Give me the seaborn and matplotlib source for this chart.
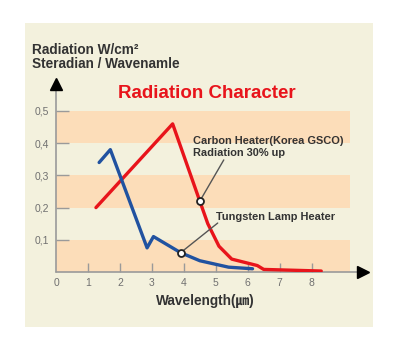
import matplotlib
matplotlib.use("Agg")
import matplotlib.pyplot as plt
from matplotlib.patches import Rectangle
import seaborn as sns
import pandas as pd

# Data
carbon_x = [1.25, 3.65, 4.5, 4.75, 5.1, 5.5, 6.3, 6.5, 8.3]
carbon_y = [0.20, 0.46, 0.22, 0.15, 0.08, 0.04, 0.02, 0.008, 0.003]
tungsten_x = [1.35, 1.7, 2.85, 3.05, 3.9, 4.5, 5.4, 6.15]
tungsten_y = [0.34, 0.38, 0.075, 0.11, 0.06, 0.035, 0.015, 0.01]
x_ticks = [0, 1, 2, 3, 4, 5, 6, 7, 8]
y_ticks = [0.1, 0.2, 0.3, 0.4, 0.5]
y_tick_labels = ["0,1", "0,2", "0,3", "0,4", "0,5"]
carbon_marker = (4.5, 0.22)
tungsten_marker = (3.9, 0.06)

sns.set_style("white")
plt.rcParams["font.family"] = ["Liberation Sans", "Noto Sans CJK JP", "DejaVu Sans"]

CREAM = "#F3F1DD"
BAND = "#FCDDB9"
RED = "#E8141B"
BLUE = "#2152A0"
TXT = "#333333"

fig = plt.figure(figsize=(4, 3.5), dpi=100)
fig.patch.set_facecolor("white")
fig.patches.append(Rectangle((25 / 400, 1 - 327 / 350), 348 / 400, 304 / 350,
                             transform=fig.transFigure, facecolor=CREAM,
                             edgecolor="none", zorder=-5))

ax = fig.add_axes([56 / 400, (350 - 272) / 350, 294 / 400, (272 - 82) / 350])
ax.set_zorder(2)
ax.set_facecolor("none")
ax.set_xlim(0, 9.2)
ax.set_ylim(0, 0.59)

for lo in (0.0, 0.2, 0.4):
    ax.axhspan(lo, lo + 0.1, color=BAND, lw=0, zorder=0)

df = pd.concat([
    pd.DataFrame({"x": carbon_x, "y": carbon_y, "s": "carbon"}),
    pd.DataFrame({"x": tungsten_x, "y": tungsten_y, "s": "tungsten"}),
])
sns.lineplot(data=df, x="x", y="y", hue="s", palette={"carbon": RED, "tungsten": BLUE},
             sort=False, lw=2.4, legend=False, ax=ax, zorder=3)

for sp in ax.spines.values():
    sp.set_visible(False)

# axes lines with arrows
ax.plot([0, 0], [0, 0.575], color="#9A9A9A", lw=1.2, clip_on=False, zorder=2)
ax.plot([0], [0.585], marker="^", color="black", ms=8, clip_on=False, zorder=5)
ax.plot([0, 1.03], [0, 0], color="#9A9A9A", lw=1.2, clip_on=False, zorder=2,
        transform=ax.get_yaxis_transform())
ax.plot([1.045], [0], marker=">", color="black", ms=8, clip_on=False, zorder=5,
        transform=ax.get_yaxis_transform())

ax.set_xticks(x_ticks)
ax.set_xticklabels([str(t) for t in x_ticks])
ax.set_yticks(y_ticks)
ax.set_yticklabels(y_tick_labels)
ax.tick_params(axis="x", direction="in", length=6.5, width=1, color="#9A9A9A",
               labelsize=7.5, labelcolor="#707070", pad=4, bottom=True)
ax.tick_params(axis="y", direction="in", length=9, width=1, color="#9A9A9A",
               labelsize=7.5, labelcolor="#707070", pad=5, left=True)
ax.xaxis.get_major_ticks()[0].tick1line.set_visible(False)
ax.set_xlabel("")
ax.set_ylabel("")

# markers + leaders
ax.plot([carbon_marker[0], 5.25], [carbon_marker[1], 0.348], color="#555555", lw=1, zorder=4)
ax.plot([tungsten_marker[0], 5.06], [tungsten_marker[1], 0.152], color="#555555", lw=1, zorder=4)
for (mx, my) in (carbon_marker, tungsten_marker):
    ax.plot([mx], [my], marker="o", ms=5, mfc="white", mec="#222222", mew=1.3, zorder=6)

ax.text(4.28, 0.407, "Carbon Heater(Korea GSCO)", fontsize=7.9, fontweight="bold",
        color=TXT, va="center", ha="left")
ax.text(4.28, 0.368, "Radiation 30% up", fontsize=7.9, fontweight="bold",
        color=TXT, va="center", ha="left")
ax.text(5.0, 0.171, "Tungsten Lamp Heater", fontsize=7.9, fontweight="bold",
        color=TXT, va="center", ha="left")

fig.text(207 / 400, 1 - 93 / 350, "Radiation Character", color=RED, fontsize=13.5,
         fontweight="bold", ha="center", va="center")
fig.text(32 / 400, 1 - 50 / 350, "Radiation W/cm²", color=TXT, fontsize=9.8,
         fontweight="bold", ha="left", va="center")
fig.text(32 / 400, 1 - 64 / 350, "Steradian / Wavenamle", color=TXT, fontsize=9.8,
         fontweight="bold", ha="left", va="center")
fig.text(205 / 400, 1 - 301 / 350, "Wavelength(㎛)", color=TXT, fontsize=9.8,
         fontweight="bold", ha="center", va="center")

fig.savefig("out.png", dpi=100)
